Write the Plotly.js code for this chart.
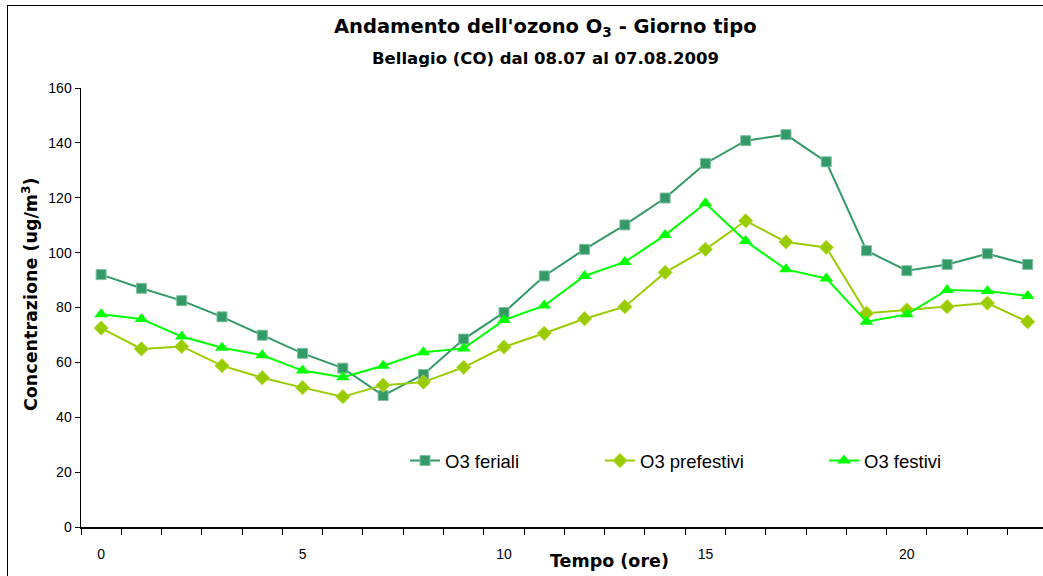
<!DOCTYPE html>
<html>
<head>
<meta charset="utf-8">
<script src="https://cdn.plot.ly/plotly-3.0.1.min.js"></script>
<style>
html,body{margin:0;padding:0;background:#fff;}
#wrap{position:relative;width:1043px;height:576px;overflow:hidden;}
#chart{width:1043px;height:576px;}
#frame{position:absolute;left:7px;top:5px;width:1200px;height:1200px;border:1.5px solid #000;pointer-events:none;box-sizing:border-box;}
</style>
</head>
<body>
<div id="wrap"><div id="chart"></div><div id="frame"></div></div>
<script>
const hours = [0,1,2,3,4,5,6,7,8,9,10,11,12,13,14,15,16,17,18,19,20,21,22,23];
const feriali = [92,87,82.5,76.6,69.9,63.3,57.9,47.9,55.6,68.5,78.2,91.5,101.2,110.1,119.9,132.5,140.8,143,133.1,100.7,93.4,95.7,99.6,95.7];
const prefestivi = [72.5,64.9,65.8,58.8,54.4,50.8,47.5,51.7,52.8,58.2,65.6,70.6,75.9,80.3,92.8,101.2,111.6,103.9,101.9,77.9,79.1,80.3,81.6,74.8];
const festivi = [77.5,75.8,69.4,65.3,62.6,57,54.6,58.8,63.7,65.1,75.4,80.7,91.5,96.6,106.4,118,104.2,93.9,90.6,74.8,77.5,86.4,86,84.2];
const seriesNames = ['O3 feriali','O3 prefestivi','O3 festivi'];
const xTickVals = [0,5,10,15,20];
const xTickText = ['0','5','10','15','20'];
const yTickVals = [0,20,40,60,80,100,120,140,160];

const L = 81, T = 88, B = 527, PW = 962, PH = 439;
const px = v => (v - L) / PW;
const py = v => (B - v) / PH;

const traces = [
  {x: hours, y: feriali, name: seriesNames[0], type:'scatter', mode:'lines+markers', legend:'legend',
   line:{color:'#339966', width:2}, marker:{symbol:'square', size:10, color:'#339966', line:{color:'#80c0a0', width:1}}},
  {x: hours, y: prefestivi, name: seriesNames[1], type:'scatter', mode:'lines+markers', legend:'legend2',
   line:{color:'#99CC00', width:2}, marker:{symbol:'diamond', size:11, color:'#99CC00', line:{color:'#b8dc40', width:1}}},
  {x: hours, y: festivi, name: seriesNames[2], type:'scatter', mode:'lines+markers', legend:'legend3',
   line:{color:'#00FF00', width:2}, marker:{symbol:'triangle-up', size:12, color:'#00FF00', line:{color:'#00FF00', width:0}}}
];

const legBase = {orientation:'h', xref:'paper', yref:'paper', yanchor:'middle', xanchor:'left', y:py(461),
  bgcolor:'rgba(0,0,0,0)', borderwidth:0, font:{family:'Liberation Sans, Arial, sans-serif', size:18.5, color:'#000'}};

const titleFont = {family:'DejaVu Sans, Verdana, sans-serif', color:'#000'};

const layout = {
  width:1043, height:576,
  margin:{l:L, r:0, t:T, b:576-B, pad:0, autoexpand:false},
  paper_bgcolor:'#fff', plot_bgcolor:'#fff',
  showlegend:true,
  xaxis:{range:[-0.5, 23.38], tickmode:'array', tickvals:xTickVals, ticktext:xTickText, ticks:'', ticklabelstandoff:14,
         showline:true, linecolor:'#000', linewidth:1.5, showgrid:false, zeroline:false,
         tickfont:{family:'Liberation Sans, Arial, sans-serif', size:14, color:'#000'},
         minor:{tick0:-0.5, dtick:1, ticks:'outside', ticklen:6, tickcolor:'#000', tickwidth:1, showgrid:false}},
  yaxis:{range:[0,160], tickmode:'array', tickvals:yTickVals, ticks:'outside', ticklen:5, tickcolor:'#000', tickwidth:1,
         showline:true, linecolor:'#000', linewidth:1.5, showgrid:false, zeroline:false,
         tickfont:{family:'Liberation Sans, Arial, sans-serif', size:14, color:'#000'}},
  legend: Object.assign({}, legBase, {x:px(405)}),
  legend2: Object.assign({}, legBase, {x:px(600)}),
  legend3: Object.assign({}, legBase, {x:px(824)}),
  annotations:[
    {text:'<b>Andamento dell\'ozono O<sub>3</sub> - Giorno tipo</b>', xref:'paper', yref:'paper', x:px(545), y:py(28),
     xanchor:'center', yanchor:'middle', showarrow:false, font:Object.assign({size:19.5}, titleFont)},
    {text:'<b>Bellagio (CO) dal 08.07 al 07.08.2009</b>', xref:'paper', yref:'paper', x:px(545), y:py(59),
     xanchor:'center', yanchor:'middle', showarrow:false, font:Object.assign({size:16.5}, titleFont)},
    {text:'<b>Concentrazione (ug/m<sup>3</sup>)</b>', xref:'paper', yref:'paper', x:px(30), y:py(294), xanchor:'center', yanchor:'middle',
     textangle:-90, showarrow:false, font:Object.assign({size:17.5}, titleFont)},
    {text:'<b>Tempo (ore)</b>', xref:'paper', yref:'paper', x:px(609), y:py(561), xanchor:'center', yanchor:'middle',
     showarrow:false, font:Object.assign({size:17.5}, titleFont)}
  ]
};

Plotly.newPlot('chart', traces, layout, {displayModeBar:false, staticPlot:true});
</script>
</body>
</html>
